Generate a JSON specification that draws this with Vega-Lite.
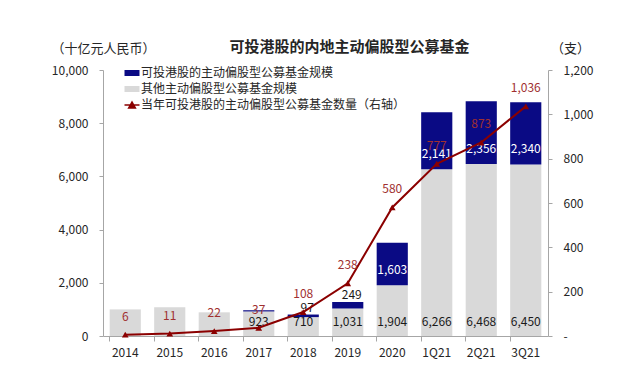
{
  "$schema": "https://vega.github.io/schema/vega-lite/v6.json",
  "autosize": {"type": "none"},
  "width": 445,
  "height": 266,
  "padding": {"left": 103, "top": 70, "right": 82, "bottom": 47},
  "background": "white",
  "config": {
    "view": {"stroke": null},
    "font": "Noto Sans CJK SC",
    "axis": {"grid": false, "domainColor": "#a6a6a6", "tickColor": "#a6a6a6", "labelColor": "#262626", "labelFontSize": 12, "labelFont": "Noto Sans CJK SC", "titleFont": "Noto Sans CJK SC", "titleFontWeight": "normal", "titleFontSize": 13, "titleColor": "#262626"}
  },
  "title": {"text": "可投港股的内地主动偏股型公募基金", "fontSize": 15, "fontWeight": "bold", "color": "#262626", "anchor": "middle", "frame": "group", "dx": 24, "dy": 27, "offset": 14},
  "data": {"values": [
    {"cat": "2014", "other": 1000, "hk": 0, "count": 6},
    {"cat": "2015", "other": 1080, "hk": 0, "count": 11},
    {"cat": "2016", "other": 890, "hk": 0, "count": 22},
    {"cat": "2017", "other": 923, "hk": 45, "count": 37},
    {"cat": "2018", "other": 710, "hk": 97, "count": 108},
    {"cat": "2019", "other": 1031, "hk": 249, "count": 238},
    {"cat": "2020", "other": 1904, "hk": 1603, "count": 580},
    {"cat": "1Q21", "other": 6266, "hk": 2141, "count": 777},
    {"cat": "2Q21", "other": 6468, "hk": 2356, "count": 873},
    {"cat": "3Q21", "other": 6450, "hk": 2340, "count": 1036}
  ]},
  "encoding": {
    "x": {"field": "cat", "type": "nominal", "sort": null,
      "scale": {"paddingInner": 0.3, "paddingOuter": 0.15},
      "axis": {"title": null, "labelAngle": 0, "bandPosition": 0, "labelOffset": 0, "tickSize": 5, "labelPadding": 6, "labelFontSize": 12}}
  },
  "layer": [
    {
      "layer": [
        {
          "transform": [{"fold": ["other", "hk"], "as": ["k", "v"]}],
          "mark": {"type": "bar"},
          "encoding": {
            "y": {"field": "v", "type": "quantitative", "stack": "zero",
              "scale": {"domain": [0, 10000]},
              "axis": {"values": [0, 2000, 4000, 6000, 8000, 10000], "labelExpr": "format(datum.value, ',')", "tickSize": 4, "labelPadding": 11,
                "title": "（十亿元人民币）", "titleAngle": 0, "titleAlign": "center", "titleBaseline": "middle", "titleX": 0, "titleY": -22}},
            "color": {"field": "k", "type": "nominal",
              "scale": {"domain": ["hk", "other", "count"], "range": ["#0a0a84", "#d9d9d9", "#8b0000"]},
              "legend": {"orient": "none", "legendX": 23, "legendY": -3, "title": null, "labelFontSize": 12, "labelColor": "#262626", "labelFont": "Noto Sans CJK SC", "labelLimit": 0,
                "labelExpr": "{'hk': '可投港股的主动偏股型公募基金规模', 'other': '其他主动偏股型公募基金规模', 'count': '当年可投港股的主动偏股型公募基金数量（右轴）'}[datum.value]",
                "symbolSize": 225, "symbolType": "M-1,-0.4H1V0.4H-1Z", "rowPadding": 4, "labelOffset": 3, "symbolStrokeWidth": 0,
                "encode": {"symbols": {"update": {
                  "shape": {"signal": "datum.value === 'count' ? 'M-1,0H1M-0.45,0.4L0,-0.4L0.45,0.4Z' : 'M-1,-0.4H1V0.4H-1Z'"},
                  "fill": {"signal": "scale('color', datum.value)"},
                  "stroke": {"signal": "scale('color', datum.value)"},
                  "strokeWidth": {"signal": "datum.value === 'count' ? 1.5 : 0"}
                }}}}},
            "order": {"field": "k", "sort": "descending"}
          }
        },
        {
          "transform": [{"filter": "indexof(['2014','2015','2016'], datum.cat) < 0"}],
          "mark": {"type": "text", "fontSize": 12, "color": "#1a1a1a", "baseline": "middle"},
          "encoding": {
            "y": {"datum": 520, "type": "quantitative"},
            "text": {"field": "other", "type": "quantitative", "format": ","}
          }
        },
        {
          "transform": [
            {"fold": ["other", "hk"], "as": ["k", "v"]},
            {"stack": "v", "groupby": ["cat"], "sort": [{"field": "k", "order": "descending"}], "as": ["v0", "v1"]},
            {"filter": "datum.k === 'hk' && indexof(['2020','1Q21','2Q21','3Q21'], datum.cat) >= 0"}
          ],
          "mark": {"type": "text", "fontSize": 12, "color": "white", "baseline": "middle", "dy": -15},
          "encoding": {
            "y": {"field": "v0", "type": "quantitative"},
            "text": {"field": "v", "type": "quantitative", "format": ","}
          }
        },
        {
          "transform": [
            {"fold": ["other", "hk"], "as": ["k", "v"]},
            {"stack": "v", "groupby": ["cat"], "sort": [{"field": "k", "order": "descending"}], "as": ["v0", "v1"]},
            {"filter": "datum.k === 'hk' && indexof(['2018','2019'], datum.cat) >= 0"}
          ],
          "mark": {"type": "text", "fontSize": 12, "color": "#1a1a1a", "baseline": "bottom", "dy": 0, "dx": 4},
          "encoding": {
            "y": {"field": "v1", "type": "quantitative"},
            "text": {"field": "v", "type": "quantitative", "format": ","}
          }
        }
      ]
    },
    {
      "layer": [
        {
          "mark": {"type": "line", "strokeWidth": 2},
          "encoding": {
            "y": {"field": "count", "type": "quantitative", "scale": {"domain": [0, 1200]},
              "axis": {"orient": "right", "values": [0, 200, 400, 600, 800, 1000, 1200], "labelExpr": "datum.value === 0 ? '-' : format(datum.value, ',')", "tickSize": 4, "labelPadding": 11,
                "title": "（支）", "titleAngle": 0, "titleAlign": "center", "titleBaseline": "middle", "titleX": 22, "titleY": -22}},
            "color": {"datum": "count", "legend": null}
          }
        },
        {
          "mark": {"type": "point", "shape": "triangle-up", "filled": true, "size": 45, "opacity": 1},
          "encoding": {
            "y": {"field": "count", "type": "quantitative"},
            "color": {"datum": "count", "legend": null}
          }
        },
        {
          "mark": {"type": "text", "fontSize": 12, "color": "#a03030", "baseline": "middle", "dy": -18},
          "encoding": {
            "y": {"field": "count", "type": "quantitative"},
            "text": {"field": "count", "type": "quantitative", "format": ","}
          }
        }
      ]
    }
  ],
  "resolve": {"scale": {"y": "independent"}}
}
